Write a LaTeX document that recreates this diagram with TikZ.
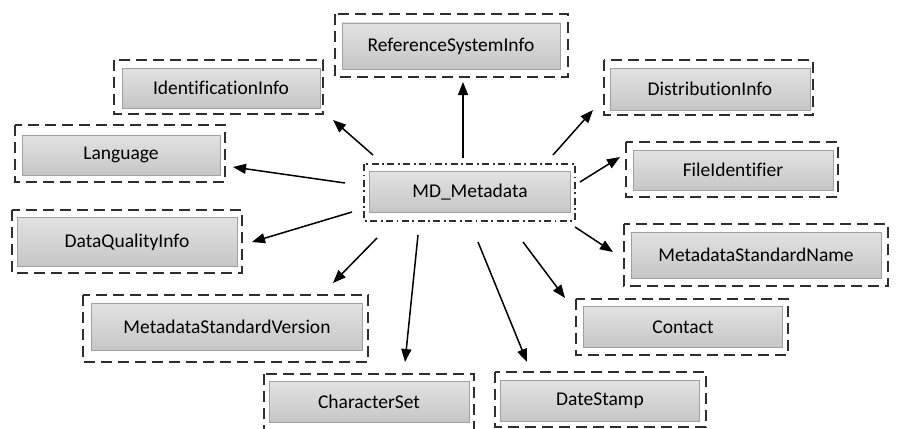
\documentclass[tikz,border=0pt]{standalone}
\usepackage{fontspec}
\setmainfont{Carlito}[Ligatures=NoCommon]
\usetikzlibrary{arrows.meta}
\definecolor{boxtop}{HTML}{E2E2E2}
\definecolor{boxbot}{HTML}{C6C6C6}
\definecolor{boxline}{HTML}{A0A0A0}
\definecolor{frameline}{HTML}{2E2E2E}
\begin{document}
\begin{tikzpicture}[x=1pt,y=-1pt,
    tag/.style={draw=boxline, line width=0.8pt, top color=boxtop, bottom color=boxbot,
      inner sep=0pt, font=\fontsize{19.5}{22}\selectfont},
    frame/.style={draw=frameline, line width=2.2pt, dash pattern=on 11pt off 6pt},
    mainframe/.style={draw=frameline, line width=2pt, dash pattern=on 7pt off 3.5pt on 1.8pt off 3.5pt},
    link/.style={line width=1.5pt, -{Triangle[length=13pt,width=10pt]}}]
        \useasboundingbox (0,0) rectangle (901,428);
        \clip (0,0) rectangle (901,428);
        %Khung ngoài
        \foreach \xa/\ya/\xb/\yb in{
        335/14/568/77, 114/60/323/114, 604/60/813/115, 15/125/225/182, 626/142/838/197,
        12/210/242/273, 624/224/888/286, 83/295/368/362, 576/299/788/355,
        264/374/474/434, 495/372/706/427
        }{\draw[frame] (\xa,\ya) rectangle (\xb,\yb);}
        \draw[mainframe] (364,164) rectangle (575,221);
        %Các lớp
        \foreach \nm/\txt/\cx/\cy/\w/\h in{
        ref/ReferenceSystemInfo/451/46/218/46, ident/IdentificationInfo/221/88/198/40,
        dist/DistributionInfo/710/89/200/42, lang/Language/121/155/198/40,
        file/FileIdentifier/733/170/200/40, dq/DataQualityInfo/127/242/220/49,
        msn/MetadataStandardName/756/255/250/46, msv/MetadataStandardVersion/227/327/271/47,
        contact/Contact/683/327/199/41, cs/CharacterSet/369/402/200/41,
        ds/DateStamp/600/401/199/41
        }{\node[tag, minimum width=\w pt, minimum height=\h pt] (\nm) at (\cx,\cy) {\txt};}
        \node[tag, minimum width=201pt, minimum height=41pt] (md) at (470,192) {MD\_Metadata};
        %Mũi tên
        \foreach \nm/\xa/\ya/\xb/\yb in{
        ident/373/155/333/120, ref/463/158/463/82, dist/553/155/593/110, file/580/182/620/157,
        lang/345/183/233/167, dq/352/212/252/242, msv/377/238/333/283, cs/418/235/405/362,
        ds/478/242/527/362, contact/523/242/565/298, msn/575/227/613/252
        }{
        \coordinate (\nm-from) at (\xa,\ya);
        \coordinate (\nm-to) at (\xb,\yb);
        \draw[link] (\nm-from) -- (\nm-to);
        }
\end{tikzpicture}
\end{document}
